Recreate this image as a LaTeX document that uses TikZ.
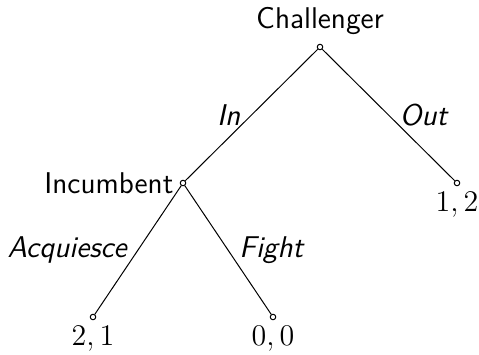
\documentclass[tikz,border=0pt]{standalone}
\usetikzlibrary{positioning}
\begin{document}
\begin{tikzpicture}[x=0.4pt,y=-0.4pt,
  every node/.style={font=\fontsize{12}{14}\selectfont},
  dec/.style={circle,draw,inner sep=0pt,minimum size=2.2pt},
  lbl/.style={font=\fontsize{12}{14}\selectfont\sffamily},
  elbl/.style={font=\fontsize{12}{14}\selectfont\sffamily\itshape},
  pay/.style={}]
\useasboundingbox (0,0) rectangle (479,354);
\node[dec] (c) at (320,47) {};
\node[dec] (i) at (183,183) {};
\node[dec] (o) at (457,183) {};
\node[dec] (a) at (93,317) {};
\node[dec] (f) at (273,317) {};
\node[lbl,above=0pt of c] (cl) {Challenger};
\node[lbl,left=-1pt of i] (il) {Incumbent};
\node[pay,below=-1pt of o] (ol) {$1,2$};
\node[pay,below=-1pt of a] (al) {$2,1$};
\node[pay,below=-1pt of f] (fl) {$0,0$};
\draw (c) -- node[elbl,left=1pt] (inl) {In} (i);
\draw (c) -- node[elbl,right=1pt] (outl) {Out} (o);
\draw (i) -- node[elbl,left=1pt] (acl) {Acquiesce} (a);
\draw (i) -- node[elbl,right=1pt] (fil) {Fight} (f);
\end{tikzpicture}
\end{document}
